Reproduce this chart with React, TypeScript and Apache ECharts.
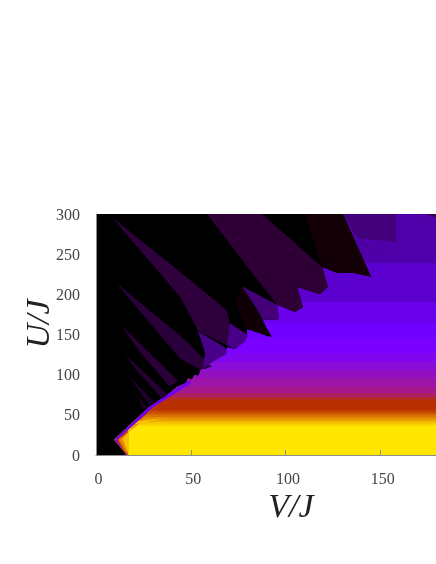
import React, { useEffect, useRef } from "react";
import * as echarts from "echarts";

type Pt = [number, number];

const xTicks = [0, 50, 100, 150];
const yTicks = [0, 50, 100, 150, 200, 250, 300];
const xMax = 179.4;
const yMax = 300;

// Horizontal bands: upper U edge of each, from the top of the map down
const bandTops = [300, 239, 190, 164, 146, 127, 116, 106, 96, 85, 77, 72, 68, 56, 53, 50, 47, 44, 41, 38, 36];
const bandColors = [
  "#5000a8", "#5c00d0", "#6a00ec", "#7000ff", "#7a00ff", "#8006f0", "#8a0cd8", "#9210c0", "#9c14a8",
  "#a4188c", "#ac2060", "#b42c20", "#b83000", "#c04000", "#cc5800", "#d87400", "#e49000", "#eeac00", "#f6c400", "#fbd800", "#ffe600",
];

// Edge of the black region, in (V/J, U/J)
const blackRegion: Pt[] = [
  [0, 0], [16.4, 0], [9.5, 19], [28, 60], [33, 67], [38.5, 77], [42.7, 85], [47.5, 90], [48.5, 96], [50.5, 94],
  [52, 100], [54, 99], [55.5, 108], [58, 107], [59.5, 114], [61.7, 116], [64, 120], [68, 125], [69.1, 134], [73.4, 132],
  [76, 139], [79.7, 148], [79.7, 157], [91.8, 147], [88.1, 168], [96.6, 169],
  [95.5, 187], [105, 178], [109.2, 184], [106.1, 209], [118.2, 200], [122.4, 209], [119.3, 234], [127.2, 227],
  [135.6, 227], [145.1, 222], [130.3, 300], [0, 300],
];

const wedgeTop: Pt[] = [[58.6, 300], [87.6, 300], [119.3, 234], [122.4, 209], [118.2, 200], [106.1, 209], [109.2, 184], [105, 178], [95.5, 187], [77, 243]];
const wedgeNearBlackRight: Pt[] = [[110.3, 300], [130.3, 300], [145.1, 222], [135.6, 227], [127.2, 227], [119.3, 234]];
const wedgeNearBlackMid: Pt[] = [[77, 210], [92.9, 147], [79.7, 157], [73.4, 189]];
const wedgeMid: Pt[] = [[77, 210], [95.5, 187], [96.6, 169], [88.1, 168], [92.9, 147], [85, 181]];
const wedgeLong: Pt[] = [[8.4, 296], [44.3, 228], [68.6, 181], [70.7, 164], [72.3, 133], [54, 154], [44.3, 197]];
const wedgeSecond: Pt[] = [[10.6, 214], [44.3, 149], [61.2, 110], [54.9, 106], [44.3, 120]];
const patchA: Pt[] = [[53.8, 154], [68, 134], [69.1, 127], [61.7, 116], [56.5, 108], [57.5, 128]];
const patchB: Pt[] = [[70.7, 164], [80.2, 149], [78.6, 141], [73.4, 132], [69.1, 137]];
const wedgeThird: Pt[] = [[13.2, 162], [43.3, 92], [39, 85], [23.2, 128]];
const wedgeFourth: Pt[] = [[15.3, 125], [38, 75], [34.8, 70], [20.6, 108]];
const wedgeFifth: Pt[] = [[17.9, 97], [31.1, 65], [28.5, 61], [21.1, 85]];
const wedgeSixth: Pt[] = [[21.6, 75], [26.9, 59], [24.8, 56]];
const cornerPatch: Pt[] = [[130.3, 300], [158.3, 300], [158.3, 265], [137.7, 270]];
const sliverUpper: Pt[] = [[137.7, 268], [152.5, 247], [139.3, 264]];
const sliverLower: Pt[] = [[127.2, 228], [135.6, 205], [128.8, 224]];
const sliverCorner: Pt[] = [[174, 300], [180, 300], [180, 295]];

const fanRed: Pt[] = [[10.5, 19], [16, 0], [17, 0], [17, 36], [30, 58], [36, 68]];
const fanOrange: Pt[] = [[12, 19], [16.5, 1], [17, 36], [30, 52], [34, 60]];
const fanAmber: Pt[] = [[14, 20], [17, 2], [17, 36], [36, 46], [22, 42]];
const edgeUpper: Pt[] = [[9.5, 19], [28, 60], [38.5, 77], [49.6, 93], [50, 89], [30, 59], [11.2, 19]];
const edgeLower: Pt[] = [[9.5, 19], [16.4, 0], [15.6, 0], [11.2, 19]];

const bandLayers = bandTops.map((top, i) => ({
  points: [[0, 0], [xMax, 0], [xMax, top], [0, top]] as Pt[],
  fill: bandColors[i],
}));

const layers = [
  ...bandLayers,
  { points: blackRegion, fill: "#000000" },
  { points: fanRed, fill: "#c84800" },
  { points: fanOrange, fill: "#e88800" },
  { points: fanAmber, fill: "#f8c000" },
  { points: edgeUpper, fill: "#7000f0" },
  { points: edgeLower, fill: "#9000c0" },
  { points: wedgeTop, fill: "#2e0036" },
  { points: wedgeNearBlackRight, fill: "#120006" },
  { points: wedgeNearBlackMid, fill: "#100006" },
  { points: wedgeMid, fill: "#440078" },
  { points: wedgeLong, fill: "#2e003c" },
  { points: wedgeSecond, fill: "#2a003a" },
  { points: patchA, fill: "#480088" },
  { points: patchB, fill: "#480088" },
  { points: wedgeThird, fill: "#2a0038" },
  { points: wedgeFourth, fill: "#260034" },
  { points: wedgeFifth, fill: "#1e002c" },
  { points: wedgeSixth, fill: "#1a0024" },
  { points: cornerPatch, fill: "#42007a" },
  { points: sliverUpper, fill: "#440080" },
  { points: sliverLower, fill: "#280048" },
  { points: sliverCorner, fill: "#300050" },
];

const serif = "'Liberation Serif', serif";

export default function App() {
  const ref = useRef<HTMLDivElement>(null);
  useEffect(() => {
    const chart = echarts.init(ref.current!, undefined, { renderer: "svg" });
    const axisCommon = {
      type: "value",
      z: 10,
      splitLine: { show: false },
      axisLine: { show: true, onZero: false, lineStyle: { color: "#8c8c8c", width: 1 } },
    };
    chart.setOption({
      animation: false,
      backgroundColor: "#ffffff",
      grid: { left: 96, top: 214, width: 340, height: 241, show: true, borderWidth: 0 },
      xAxis: {
        ...axisCommon,
        min: 0,
        max: xMax,
        interval: 50,
        axisTick: { show: true, inside: true, length: 5, lineStyle: { color: "#8c8c8c", width: 1 } },
        axisLabel: {
          margin: 15,
          fontFamily: serif,
          fontSize: 16,
          color: "#444444",
          padding: [0, 0, 0, 5],
          showMaxLabel: false,
          formatter: (v: number) => (xTicks.includes(v) ? String(v) : ""),
        },
      },
      yAxis: {
        ...axisCommon,
        min: 0,
        max: yMax,
        interval: 50,
        axisTick: { show: false },
        axisLabel: {
          margin: 16,
          fontFamily: serif,
          fontSize: 16,
          color: "#444444",
          formatter: (v: number) => (yTicks.includes(v) ? String(v) : ""),
        },
      },
      series: [
        {
          type: "custom",
          coordinateSystem: "cartesian2d",
          clip: true,
          data: layers.map((_, i) => [0, i]),
          encode: { x: 0, y: 1 },
          renderItem: (params: any, api: any) => {
            const layer = layers[params.dataIndex];
            return {
              type: "polygon",
              shape: { points: layer.points.map((p) => api.coord(p)) },
              style: { fill: layer.fill, stroke: null },
            };
          },
        },
      ],
      graphic: [
        {
          type: "text",
          x: 291,
          y: 505,
          style: {
            text: "V/J",
            font: `italic 34px ${serif}`,
            fill: "#222222",
            textAlign: "center",
            textVerticalAlign: "middle",
          },
        },
        {
          type: "text",
          x: 37,
          y: 324,
          rotation: Math.PI / 2,
          style: {
            text: "U/J",
            font: `italic 34px ${serif}`,
            fill: "#222222",
            textAlign: "center",
            textVerticalAlign: "middle",
          },
        },
      ],
    });
    return () => chart.dispose();
  }, []);
  return <div ref={ref} style={{ position: "absolute", left: 0, top: 0, width: 436, height: 564, filter: "blur(0.4px)" }} />;
}
